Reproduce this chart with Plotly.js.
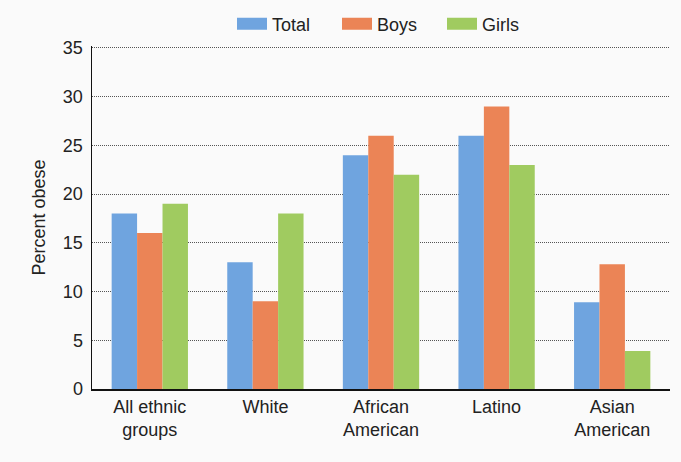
<!DOCTYPE html>
<html><head><meta charset="utf-8">
<script src="https://cdn.plot.ly/plotly-3.0.1.min.js"></script>
<style>html,body{margin:0;padding:0;background:#fafafa;}#chart{width:681px;height:462px;}</style>
</head><body><div id="chart"></div>
<script>
const categories = ["All ethnic<br>groups", "White", "African<br>American", "Latino", "Asian<br>American"];
const totalValues = [18, 13, 24, 26, 8.9];
const boysValues = [16, 9, 26, 29, 12.8];
const girlsValues = [19, 18, 22, 23, 3.9];
const yTicks = [0, 5, 10, 15, 20, 25, 30, 35];

const mk = (name, y, color) => ({
  type: 'bar', name: name, x: categories, y: y,
  marker: {color: color, line: {width: 0}}
});
const data = [
  mk('Total', totalValues, '#6fa4df'),
  mk('Boys', boysValues, '#eb8456'),
  mk('Girls', girlsValues, '#a0cb60')
];
const font = {family: 'Liberation Sans, Arial, sans-serif', size: 18, color: '#222'};
const layout = {
  width: 681, height: 462,
  margin: {l: 92, r: 11, t: 46, b: 73},
  paper_bgcolor: '#fafafa', plot_bgcolor: '#fafafa',
  font: font,
  barmode: 'group', bargap: 0.34, bargroupgap: 0,
  showlegend: true,
  legend: {orientation: 'h', x: 232/681, xanchor: 'left', y: 1 - 24/462, yanchor: 'middle', yref: 'container', xref: 'container',
           font: {family: font.family, size: 18, color: '#222'}, traceorder: 'normal',
           entrywidth: 60, entrywidthmode: 'pixels',
           bgcolor: 'rgba(0,0,0,0)'},
  xaxis: {range: [-0.5, 4.5], showgrid: false, showline: true, linecolor: '#111', linewidth: 2,
          ticks: '', tickfont: font, fixedrange: true},
  yaxis: {range: [0, 35.2], tickvals: yTicks, showgrid: true, gridcolor: '#555', gridwidth: 1, griddash: '1px,1px',
          showline: true, linecolor: '#111', linewidth: 1.5, ticks: '', tickfont: font, zeroline: false,
          ticklabelstandoff: 4,
          title: {text: 'Percent obese', font: font, standoff: 12}}
};
Plotly.newPlot('chart', data, layout, {displayModeBar: false, staticPlot: true}).then(gd => {
  gd.querySelectorAll('.legendpoints path').forEach(p => {
    p.setAttribute('d', 'M-15,6H15V-6H-15Z');
  });
});
</script></body></html>
